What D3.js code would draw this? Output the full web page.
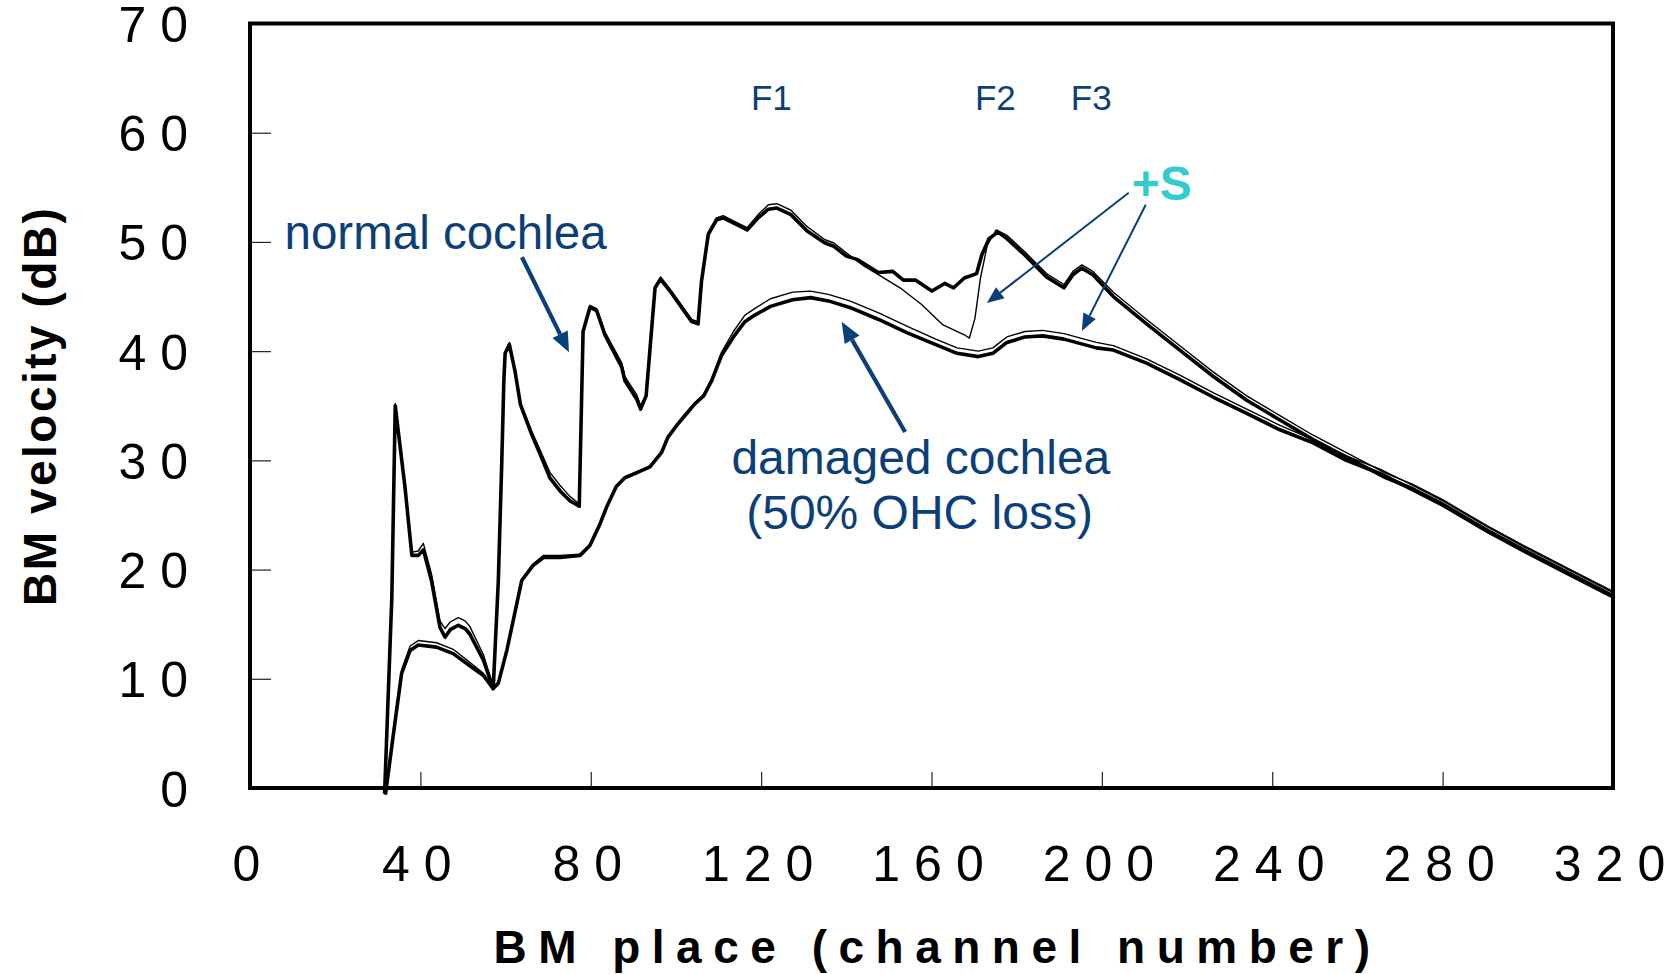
<!DOCTYPE html>
<html>
<head>
<meta charset="utf-8">
<script src="https://cdn.jsdelivr.net/npm/d3@7"></script>
<style>
  body { margin: 0; background: #fff; }
  svg { display: block; }
  text { font-family: "Liberation Sans", Arial, sans-serif; }
</style>
</head>
<body>
<svg id="chart" width="1679" height="974"></svg>
<script>
// tick labels
const xTicks = [0, 40, 80, 120, 160, 200, 240, 280, 320];
const yTicks = [0, 10, 20, 30, 40, 50, 60, 70];

// normal cochlea (thick)
const normalCh = [31.6, 33.3, 34.1, 34.8, 36.4, 38.0, 39.5, 40.7, 42.6, 44.6, 45.8, 47.0, 48.9, 50.5, 51.6, 54.8, 57.1,
  58.3, 59.1, 59.6, 59.9, 60.9, 62.2, 63.5, 66.1, 68.4, 70.4, 72.8, 75.1, 77.3, 78.2, 79.8, 81.4, 83.3, 87.3, 88.0,
  90.8, 91.7, 93.0, 94.5, 95.1, 96.4, 98.6, 101.7, 103.7, 105.2, 106.0, 107.6, 109.5, 111.1, 114.2, 116.7, 119.3,
  121.7, 123.7, 127.0, 130.8, 135.0, 137.1, 140.0, 142.5, 147.5, 150.9, 153.4, 156.3, 160.1, 163.1, 165.2, 167.7,
  170.6, 171.8, 173.5, 175.6, 177.7, 181.9, 187.0, 191.1, 193.2, 195.3, 197.9, 202.7, 210.5, 218.3, 226.1, 234.0,
  241.8, 249.6, 257.4, 266.7, 273.0, 280.0, 290.5, 300.0, 310.0, 320.0];
const normalDb = [-0.5, 17.5, 35.0, 32.7, 27.5, 21.3, 21.3, 21.8, 19.0, 14.7, 13.8, 14.5, 14.9, 14.6, 14.1, 11.7, 9.1,
  19.0, 29.7, 37.3, 39.8, 40.6, 38.2, 35.1, 32.4, 30.3, 28.4, 27.2, 26.3, 25.8, 41.8, 44.0, 43.7, 41.5, 38.5, 37.3,
  35.6, 34.7, 35.9, 43.0, 45.8, 46.6, 45.5, 43.8, 42.7, 42.5, 46.4, 50.7, 52.0, 52.2, 51.6, 51.1, 52.2,
  53.0, 53.1, 52.5, 51.0, 49.9, 49.6, 48.7, 48.4, 47.2, 47.3, 46.5, 46.5, 45.5, 46.2, 45.8, 46.7,
  47.1, 48.8, 50.3, 50.9, 50.3, 48.8, 46.8, 45.8, 47.0, 47.6, 47.0, 45.0, 42.5, 40.1, 37.7, 35.5,
  33.7, 31.9, 30.3, 28.4, 27.4, 26.0, 23.6, 21.6, 19.6, 17.6];

// normal cochlea + S (thin)
const normalSCh = [31.6, 33.3, 34.1, 34.8, 36.4, 38.0, 39.5, 40.7, 42.6, 44.6, 45.8, 47.0, 48.9, 50.5, 51.6, 54.8, 57.1,
  58.3, 59.1, 59.6, 59.9, 60.9, 62.2, 63.5, 66.1, 68.4, 70.4, 72.8, 75.1, 77.3, 78.2, 79.8, 81.4, 83.3, 87.3, 88.0,
  90.8, 91.7, 93.0, 94.5, 95.1, 96.4, 98.6, 101.7, 103.7, 105.2, 106.0, 107.6, 109.5, 111.1, 114.2, 116.7, 119.3,
  121.7, 123.7, 127.0, 130.8, 135.0, 137.1, 140.0, 144.1, 148.0, 152.6, 157.6, 162.7, 167.7, 168.9, 170.2, 171.5,
  173.1, 175.2, 177.7, 181.9, 187.0, 191.1, 193.2, 195.3, 197.9, 202.7, 210.5, 218.3, 226.1, 234.0,
  241.8, 249.6, 257.4, 266.7, 273.0, 280.0, 290.5, 300.0, 310.0, 320.0];
const normalSDb = [-0.5, 17.5, 35.2, 33.0, 27.8, 21.6, 21.7, 22.4, 19.6, 15.3, 14.6, 15.2, 15.6, 15.3, 14.8, 12.2, 9.3,
  19.0, 29.7, 37.3, 39.9, 40.8, 38.4, 35.3, 32.7, 30.7, 28.9, 27.7, 26.7, 26.0, 41.9, 44.2, 43.9, 41.8, 38.9, 37.7,
  36.0, 35.0, 36.0, 43.1, 45.9, 46.8, 45.7, 44.0, 42.9, 42.7, 46.5, 50.9, 52.2, 52.4, 51.8, 51.3, 52.5,
  53.4, 53.5, 52.9, 51.4, 50.2, 49.9, 49.0, 47.8, 46.9, 45.8, 44.3, 42.4, 41.5, 41.2, 43.0, 46.7,
  49.7, 51.1, 50.6, 49.1, 47.1, 46.1, 47.3, 47.9, 47.3, 45.4, 42.9, 40.5, 38.1, 35.9,
  34.1, 32.3, 30.7, 28.8, 27.8, 26.4, 24.0, 22.0, 20.0, 18.0];

// damaged cochlea (thick)
const damagedCh = [31.8, 34.0, 35.6, 37.6, 39.5, 43.8, 47.7, 51.6, 54.8, 57.1, 58.3, 60.3, 63.8, 66.5, 68.9, 72.8,
  77.5, 79.8, 82.2, 83.7, 86.0, 88.0, 91.0, 93.9, 96.6, 98.1, 100.2, 102.3, 104.5, 106.5, 108.4, 110.7, 113.5,
  116.2, 118.5, 122.2, 127.4, 131.6, 135.8, 140.8, 147.6, 154.2, 161.0, 166.0, 171.0, 174.4, 177.7, 181.9, 186.1,
  191.1, 198.7, 202.7, 210.5, 218.3, 226.1, 234.0, 241.8, 249.6, 257.4, 265.3, 273.0, 280.0, 290.5, 300.0, 310.0, 320.0];
const damagedDb = [-0.6, 5.9, 10.5, 12.6, 13.1, 12.9, 12.3, 11.2, 10.3, 9.1, 9.6, 12.6, 19.0, 20.4, 21.1, 21.1,
  21.3, 22.2, 24.2, 25.7, 27.6, 28.4, 28.9, 29.4, 30.7, 32.1, 33.2, 34.2, 35.2, 35.9, 37.3, 39.6, 41.3,
  42.7, 43.3, 44.1, 44.7, 44.9, 44.6, 44.0, 42.9, 41.7, 40.6, 39.8, 39.5, 39.8, 40.8, 41.3, 41.4,
  41.1, 40.3, 40.1, 38.9, 37.4, 35.8, 34.3, 32.8, 31.6, 30.0, 28.8, 27.3, 25.9, 23.5, 21.5, 19.5, 17.5];

// damaged cochlea + S (thin)
const damagedSCh = damagedCh;
const damagedSDb = [-0.6, 6.0, 10.8, 13.0, 13.5, 13.3, 12.7, 11.5, 10.5, 9.2, 9.7, 12.7, 19.1, 20.5, 21.3, 21.3,
  21.4, 22.3, 24.3, 25.8, 27.7, 28.5, 29.0, 29.5, 30.8, 32.2, 33.3, 34.3, 35.3, 36.0, 37.5, 39.9, 41.8,
  43.3, 43.9, 44.8, 45.4, 45.5, 45.2, 44.6, 43.5, 42.3, 41.1, 40.3, 40.0, 40.3, 41.3, 41.8, 41.9,
  41.6, 40.8, 40.5, 39.3, 37.8, 36.2, 34.7, 33.2, 31.9, 30.4, 29.2, 27.7, 26.3, 23.9, 21.9, 19.9, 17.9];

const svg = d3.select('#chart');
const x = d3.scaleLinear().domain([0, 320]).range([250, 1613]);
const y = d3.scaleLinear().domain([0, 70]).range([788, 23.5]);
const blue = '#0b3f7a';

// axes (ticks point inward)
const xAxis = svg.append('g').attr('transform', `translate(0,${y(0)})`)
  .call(d3.axisBottom(x).tickValues(xTicks).tickSize(-16).tickPadding(57).tickFormat(d3.format('d')));
const yAxis = svg.append('g').attr('transform', `translate(${x(0)},0)`)
  .call(d3.axisLeft(y).tickValues(yTicks).tickSize(-21).tickPadding(48).tickFormat(d3.format('d')));
[xAxis, yAxis].forEach(g => {
  g.select('.domain').remove();
  g.selectAll('line').attr('stroke', '#222').attr('stroke-width', 1.2);
  g.selectAll('text').attr('fill', '#000').style('font-size', '50px')
    .style('font-family', '"Liberation Sans", Arial, sans-serif');
});
xAxis.selectAll('text').style('letter-spacing', '14px').attr('dx', '3px');
yAxis.selectAll('text').style('letter-spacing', '14px').attr('dy', '0.36em');

// frame
svg.append('rect')
  .attr('x', x(0)).attr('y', y(70))
  .attr('width', x(320) - x(0)).attr('height', y(0) - y(70))
  .attr('fill', 'none').attr('stroke', '#000').attr('stroke-width', 4);

// curves
const line = d3.line().x(d => x(d[0])).y(d => y(d[1]));
const pairs = (ch, db) => ch.map((c, i) => [c, db[i]]);
const series = [
  {data: pairs(normalCh, normalDb), w: 3.6},
  {data: pairs(damagedCh, damagedDb), w: 3.6},
  {data: pairs(normalSCh, normalSDb), w: 1.4},
  {data: pairs(damagedSCh, damagedSDb), w: 1.4}
];
svg.append('g').selectAll('path').data(series).join('path')
  .attr('d', s => line(s.data))
  .attr('fill', 'none').attr('stroke', '#000')
  .attr('stroke-width', s => s.w)
  .attr('stroke-linejoin', 'round');

// annotation arrows (data coordinates: [channel, dB])
const arrows = [
  {from: [63.85, 48.6], to: [74.9, 39.9], w: 4.2, len: 20, half: 8.5},
  {from: [153.8, 32.6], to: [138.9, 42.7], w: 4.2, len: 21, half: 8.5},
  {from: [206.3, 54.5], to: [173.0, 44.4], w: 2, len: 17, half: 7},
  {from: [210.3, 53.4], to: [195.3, 41.85], w: 2, len: 17, half: 7}
];
const ag = svg.append('g');
arrows.forEach(a => {
  const x1 = x(a.from[0]), y1 = y(a.from[1]), x2 = x(a.to[0]), y2 = y(a.to[1]);
  const ang = Math.atan2(y2 - y1, x2 - x1);
  const bx = x2 - a.len * Math.cos(ang), by = y2 - a.len * Math.sin(ang);
  ag.append('line').attr('x1', x1).attr('y1', y1).attr('x2', bx).attr('y2', by)
    .attr('stroke', blue).attr('stroke-width', a.w);
  const px = -Math.sin(ang) * a.half, py = Math.cos(ang) * a.half;
  ag.append('path')
    .attr('d', `M${x2},${y2}L${bx + px},${by + py}L${bx - px},${by - py}Z`)
    .attr('fill', blue);
});

// annotation labels
const labels = [
  {t: 'normal cochlea', at: [8.1, 49.35], anchor: 'start', size: 47.5, color: blue},
  {t: 'damaged cochlea', at: [157.5, 28.75], anchor: 'middle', size: 48, color: blue},
  {t: '(50% OHC loss)', at: [157.2, 23.75], anchor: 'middle', size: 48, color: blue},
  {t: 'F1', at: [117.6, 62.1], anchor: 'start', size: 35, color: blue},
  {t: 'F2', at: [170.2, 62.1], anchor: 'start', size: 35, color: blue},
  {t: 'F3', at: [192.7, 62.1], anchor: 'start', size: 35, color: blue},
  {t: '+S', at: [207.0, 53.8], anchor: 'start', size: 48, color: '#33cccc', bold: true}
];
svg.append('g').selectAll('text').data(labels).join('text')
  .attr('x', d => x(d.at[0])).attr('y', d => y(d.at[1]))
  .attr('text-anchor', d => d.anchor)
  .attr('fill', d => d.color)
  .style('font-size', d => d.size + 'px')
  .style('font-weight', d => d.bold ? 'bold' : 'normal')
  .text(d => d.t);

// axis titles
svg.append('text')
  .attr('x', (x(0) + x(320)) / 2 + 6).attr('y', 963)
  .attr('text-anchor', 'middle')
  .style('font-size', '46px').style('font-weight', 'bold').style('letter-spacing', '11.5px')
  .text('BM place (channel number)');
svg.append('text')
  .attr('transform', `translate(56,${(y(0) + y(70)) / 2}) rotate(-90)`)
  .attr('text-anchor', 'middle')
  .style('font-size', '46px').style('font-weight', 'bold').style('letter-spacing', '2.5px')
  .text('BM velocity (dB)');
</script>
</body>
</html>
